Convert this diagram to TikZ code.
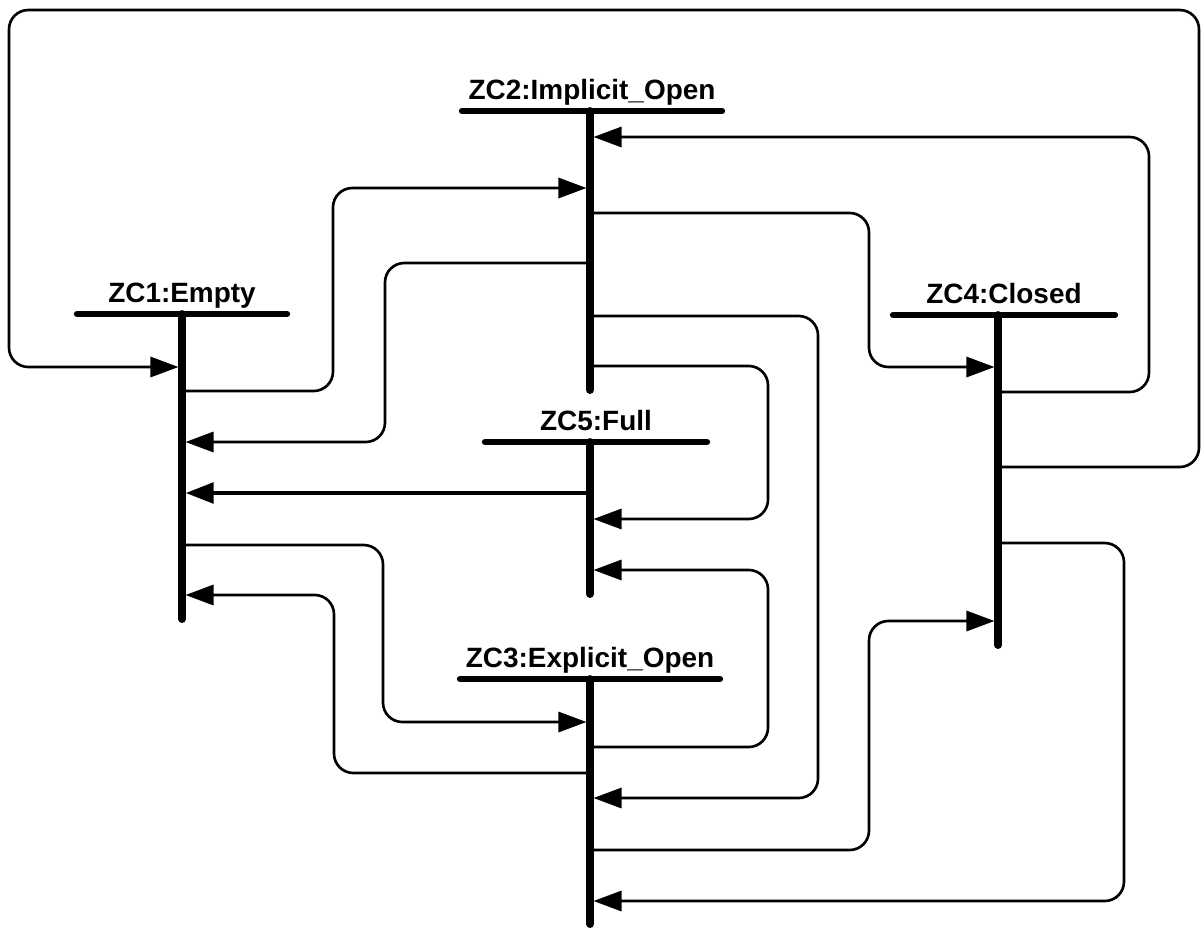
\documentclass[tikz,border=0pt]{standalone}
\usepackage{fontspec}
\setmainfont{Liberation Sans}
\usetikzlibrary{arrows.meta}

\begin{document}
\begin{tikzpicture}[x=0.02cm,y=-0.02cm,
  statename/.style={anchor=base,inner sep=0pt,font=\bfseries\fontsize{15.9}{19}\selectfont},
  bar/.style={line width=3.6pt,line cap=round},
  lifeline/.style={line width=4.5pt,line cap=round},
  flow/.style={line width=1.5pt,rounded corners=11pt,-{Triangle[length=16pt,width=11.5pt]},shorten >=2pt}]

\useasboundingbox (0,0) rectangle (1202,930);

% states: name/lifeline x/bar y/bar centre/bar half width/lifeline length/label
\foreach \n/\x/\y/\bx/\bw/\len/\txt in {
    zc1/182/314/182/105/305/ZC1:Empty,
    zc2/590/111/592/130/279/ZC2:Implicit\_Open,
    zc5/590/442/596/111/152/ZC5:Full,
    zc3/590/679/590/130/245/ZC3:Explicit\_Open,
    zc4/998/315/1004/111/330/ZC4:Closed}{
  \coordinate (\n) at (\x,\y);
  \node[statename] (\n name) at (\bx,\y-12) {\txt};
  \draw[lifeline] (\n) -- ++(0,\len);
  \draw[bar] ({\bx-\bw},\y) -- ({\bx+\bw},\y);
}

% transitions
\draw[flow] (zc4 |- 0,467) -| (1199,10) -| (9,367) -- (zc1 |- 0,367);
\draw[flow] (zc1 |- 0,391) -| (333,188) -- (zc2 |- 0,188);
\draw[flow] (zc2 |- 0,263) -| (385,442) -- (zc1 |- 0,442);
\draw[flow,line width=2.8pt] (zc5 |- 0,493) -- (zc1 |- 0,493);
\draw[flow] (zc1 |- 0,545) -| (383,722) -- (zc3 |- 0,722);
\draw[flow] (zc3 |- 0,773) -| (334,595) -- (zc1 |- 0,595);
\draw[flow] (zc4 |- 0,392) -| (1149,137) -- (zc2 |- 0,137);
\draw[flow] (zc2 |- 0,213) -| (869,367) -- (zc4 |- 0,367);
\draw[flow] (zc2 |- 0,316) -| (818,798) -- (zc3 |- 0,798);
\draw[flow] (zc2 |- 0,366) -| (768,519) -- (zc5 |- 0,519);
\draw[flow] (zc3 |- 0,747) -| (768,570) -- (zc5 |- 0,570);
\draw[flow] (zc3 |- 0,850) -| (869,621) -- (zc4 |- 0,621);
\draw[flow] (zc4 |- 0,543) -| (1124,901) -- (zc3 |- 0,901);

\end{tikzpicture}
\end{document}
